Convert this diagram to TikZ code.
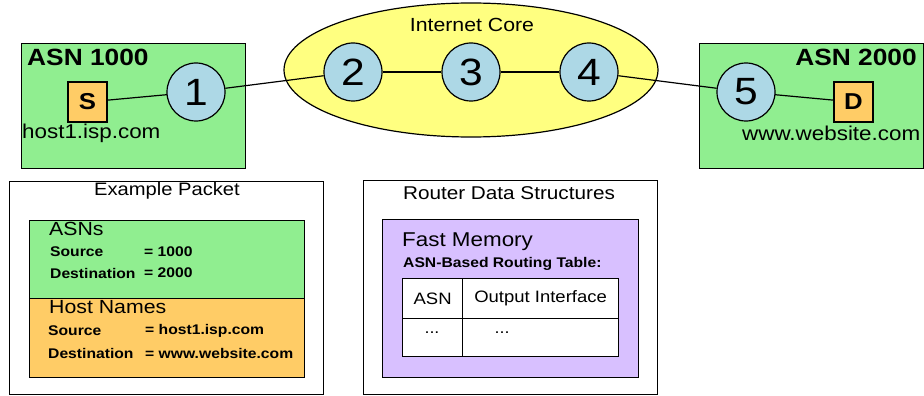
\documentclass[tikz,border=0pt]{standalone}
\usepackage{fontspec}
\setmainfont[FakeStretch=1.12]{Liberation Sans}
\usetikzlibrary{shapes.geometric}
\definecolor{asngreen}{HTML}{90EE90}
\definecolor{hostorange}{HTML}{FFCC66}
\definecolor{routerblue}{HTML}{ADD8E6}
\definecolor{coreyellow}{HTML}{FFFF80}
\definecolor{mempurple}{HTML}{D8C0FF}
\newcommand{\fsz}[1]{\fontsize{#1}{#1}\selectfont}
\pgfdeclarelayer{bglayer}
\pgfdeclarelayer{linklayer}
\pgfsetlayers{bglayer,linklayer,main}
\begin{document}
\begin{tikzpicture}[x=1pt,y=-1pt,
  box/.style={draw=black, line width=1.2pt, inner sep=0pt, anchor=north west},
  dom/.style={box, fill=asngreen},
  hostsq/.style={draw=black, line width=1.2pt, fill=hostorange, inner sep=0pt,
     minimum width=39pt, minimum height=40pt, font=\fsz{23}\bfseries},
  rtr/.style={circle, draw=black, line width=1.2pt, fill=routerblue, inner sep=0pt,
     minimum size=58pt, font=\fsz{38}},
  link/.style={draw=black, line width=1.2pt},
  txt/.style={inner sep=0pt, text=black},
  title/.style={txt, font=\fsz{23.5}\bfseries},
  host/.style={txt, font=\fsz{20}},
  head/.style={txt, font=\fsz{18}},
  sub/.style={txt, font=\fsz{19}},
  field/.style={txt, font=\fsz{14}\bfseries, anchor=west},
  cell/.style={box, fill=white, font=\fsz{16.5}}
]
\useasboundingbox (0,0) rectangle (924,396);

% ---- Internet core and ASN domains (background) ----
\begin{pgfonlayer}{bglayer}
\node[ellipse, draw=black, line width=1.2pt, fill=coreyellow, inner sep=0pt,
      minimum width=374pt, minimum height=134pt] (core) at (471,70) {};
\node[dom, minimum width=224pt, minimum height=125pt] (asnA) at (21,43) {};
\node[dom, minimum width=224pt, minimum height=125pt] (asnB) at (699,43) {};
\end{pgfonlayer}
\node[txt, font=\fsz{19}] (coretxt) at (472,25) {Internet Core};

\node[title, anchor=west] (asnAt) at (27,57) {ASN 1000};
\node[title, anchor=east] (asnBt) at (917,57) {ASN 2000};

\node[hostsq] (S) at (87.5,102) {S};
\node[hostsq] (D) at (853.5,102) {D};
\node[host, anchor=west] (hostA) at (22,133) {host1.isp.com};
\node[host, anchor=west] (hostB) at (742,133) {www.website.com};

% ---- routers ----
\node[rtr] (r1) at (196,92) {1};
\node[rtr] (r2) at (353,72) {2};
\node[rtr] (r3) at (471,72) {3};
\node[rtr] (r4) at (589,72) {4};
\node[rtr] (r5) at (746,92) {5};

\begin{pgfonlayer}{linklayer}
\draw[link] (S.center) -- (r1.center);
\draw[link] (r1) -- (r2);
\draw[link] (r2) -- (r3);
\draw[link] (r3) -- (r4);
\draw[link] (r4) -- (r5);
\draw[link] (r5.center) -- (D.center);
\end{pgfonlayer}

% ---- Example packet ----
\node[box, fill=white, minimum width=314pt, minimum height=213pt] (pkt) at (9,181) {};
\node[head] (pktt) at (167,191) {Example Packet};
\node[box, fill=asngreen, minimum width=275pt, minimum height=78pt] (pasn) at (29,220) {};
\node[box, fill=hostorange, minimum width=275pt, minimum height=79pt] (phost) at (29,298) {};
\node[sub, anchor=west] (pasnt) at (49,229) {ASNs};
\node[field] (f1) at (50,252) {Source};
\node[field] (f1v) at (144,252) {= 1000};
\node[field] (f2) at (50,273) {Destination};
\node[field] (f2v) at (144,273) {= 2000};
\node[sub, anchor=west] (phostt) at (49,307) {Host Names};
\node[field] (f3) at (48,331) {Source};
\node[field] (f3v) at (145,331) {= host1.isp.com};
\node[field] (f4) at (48,353) {Destination};
\node[field] (f4v) at (145,353) {= www.website.com};

% ---- Router data structures ----
\node[box, fill=white, minimum width=294pt, minimum height=214pt] (rds) at (363,180) {};
\node[txt, font=\fsz{18.5}] (rdst) at (509,193) {Router Data Structures};
\node[box, fill=mempurple, minimum width=256pt, minimum height=158pt] (mem) at (382,219) {};
\node[txt, font=\fsz{20}, anchor=west] (memt) at (402,242) {Fast Memory};
\node[txt, font=\fsz{14}\bfseries, anchor=west] (rtt) at (403,264) {ASN-Based Routing Table:};
\node[cell, minimum width=60pt, minimum height=40pt] (c11) at (402,278) {};
\node[cell, minimum width=156pt, minimum height=40pt] (c12) at (462,278) {};
\node[cell, minimum width=60pt, minimum height=38pt] (c21) at (402,318) {};
\node[cell, minimum width=156pt, minimum height=38pt] (c22) at (462,318) {};
\node[txt, font=\fsz{16.5}] (h1) at (c11.center) {ASN};
\node[txt, font=\fsz{16.5}] (h2) at (c12.center) {Output Interface};
\node[txt, font=\fsz{16}, anchor=base] (d1) at (432,333) {...};
\node[txt, font=\fsz{16}, anchor=base] (d2) at (502,333) {...};
\end{tikzpicture}
\end{document}
